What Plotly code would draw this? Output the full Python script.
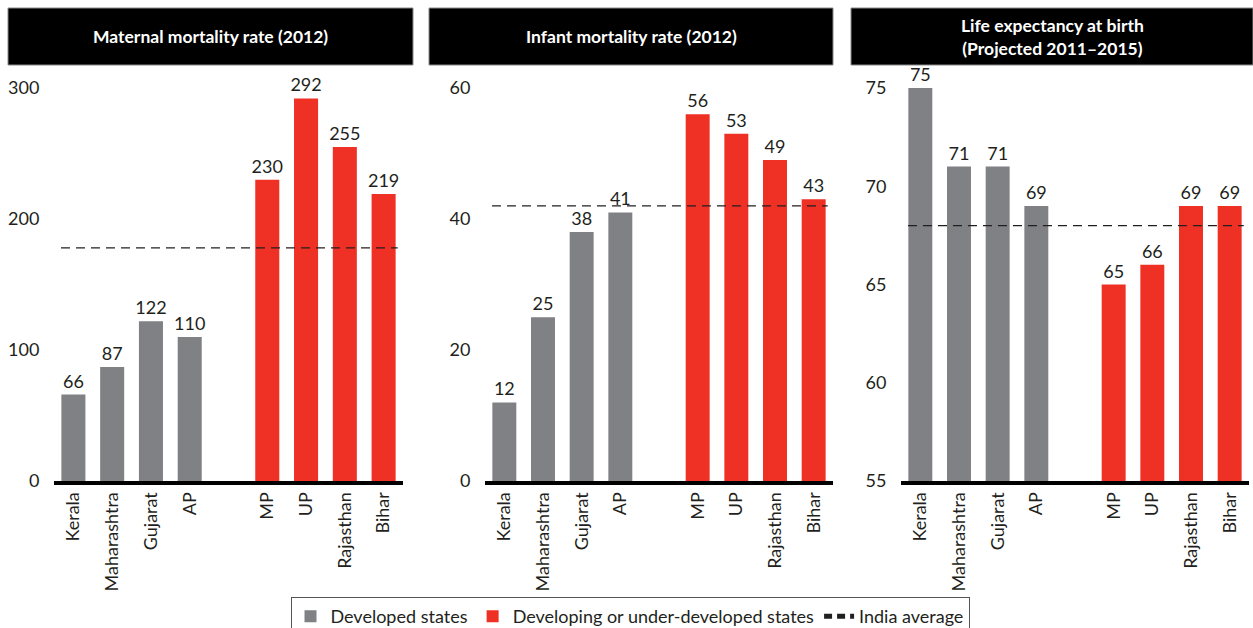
import plotly.graph_objects as go

# ---------------- data ----------------
developed = ["Kerala", "Maharashtra", "Gujarat", "AP"]
developing = ["MP", "UP", "Rajasthan", "Bihar"]
gap_label = " "

mmr_developed = [66, 87, 122, 110]
mmr_developing = [230, 292, 255, 219]
imr_developed = [12, 25, 38, 41]
imr_developing = [56, 53, 49, 43]
le_developed = [75, 71, 71, 69]
le_developing = [65, 66, 69, 69]
india_average = [178, 42, 68]

panel_titles = [
    "Maternal mortality rate (2012)",
    "Infant mortality rate (2012)",
    "Life expectancy at birth<br>(Projected 2011–2015)",
]
y_ranges = [[0, 300], [0, 60], [55, 75]]
y_ticks = [[0, 100, 200, 300], [0, 20, 40, 60], [55, 60, 65, 70, 75]]

legend_names = ["Developed states", "Developing or under-developed states", "India average"]

# ---------------- style ----------------
GREY = "#808184"
RED = "#EE3124"
TXT = "#231F20"
FONT = "Lato"

categories = developed + [gap_label] + developing
x_domains = [[54 / 1253, 403 / 1253], [485 / 1253, 833 / 1253], [901 / 1253, 1249 / 1253]]
y_domain = [(628 - 481) / 628, (628 - 88) / 628]
header_x = [[8 / 1253, 413 / 1253], [429 / 1253, 833 / 1253], [851 / 1253, 1.0]]

fig = go.Figure()

series = [
    (mmr_developed, mmr_developing),
    (imr_developed, imr_developing),
    (le_developed, le_developing),
]

for i, (dev, dvg) in enumerate(series):
    xa = "x" if i == 0 else f"x{i+1}"
    ya = "y" if i == 0 else f"y{i+1}"
    base = y_ranges[i][0]
    for names, vals, color, lname in [
        (developed, dev, GREY, legend_names[0]),
        (developing, dvg, RED, legend_names[1]),
    ]:
        fig.add_trace(go.Bar(
            x=names,
            y=[v - base for v in vals],
            base=base,
            text=vals,
            texttemplate="%{text}",
            textposition="outside",
            constraintext="none",
            textfont=dict(family=FONT, size=18, color=TXT),
            cliponaxis=False,
            marker=dict(color=color, line=dict(width=0)),
            name=lname,
            showlegend=(i == 0),
            legendgroup=lname,
            xaxis=xa, yaxis=ya,
            hoverinfo="skip",
        ))
    # India average dashed line
    fig.add_shape(
        type="line", xref=f"{xa} domain", yref=ya,
        x0=0.02, x1=0.985, y0=india_average[i], y1=india_average[i],
        line=dict(color="#231F20", width=1.3, dash="9px,6px"),
        layer="above",
    )

# legend entry for the dashed line
fig.add_trace(go.Scatter(
    x=[None], y=[None], mode="lines",
    line=dict(color="#231F20", width=1.3, dash="8px,5px"),
    name=legend_names[2], showlegend=True,
))

layout_axes = {}
for i in range(3):
    sx = "" if i == 0 else str(i + 1)
    layout_axes[f"xaxis{sx}"] = dict(
        domain=x_domains[i],
        anchor=f"y{sx}",
        type="category",
        categoryorder="array",
        categoryarray=categories,
        range=[-0.5, len(categories) - 0.5],
        showline=True, linecolor="black", linewidth=4,
        ticks="", tickangle=-90,
        tickfont=dict(family=FONT, size=18, color=TXT),
        showgrid=False, zeroline=False, fixedrange=True,
    )
    layout_axes[f"yaxis{sx}"] = dict(
        domain=y_domain,
        anchor=f"x{sx}",
        range=y_ranges[i],
        tickvals=y_ticks[i],
        showline=False, showgrid=False, zeroline=False,
        ticks="outside", ticklen=10, tickcolor="rgba(0,0,0,0)",
        tickfont=dict(family=FONT, size=18, color=TXT),
        fixedrange=True,
    )
    # header box
    fig.add_shape(
        type="rect", xref="paper", yref="paper",
        x0=header_x[i][0], x1=header_x[i][1],
        y0=(628 - 65) / 628, y1=(628 - 8) / 628,
        fillcolor="black", line=dict(color="#8a8a8a", width=1),
    )
    fig.add_annotation(
        xref="paper", yref="paper",
        x=(header_x[i][0] + header_x[i][1]) / 2,
        y=(628 - 36.5) / 628,
        text=f"<b>{panel_titles[i]}</b>",
        showarrow=False,
        font=dict(family=FONT, size=17.5, color="white"),
        xanchor="center", yanchor="middle",
    )

fig.update_layout(
    **layout_axes,
    width=1253, height=628,
    margin=dict(l=0, r=0, t=0, b=0, autoexpand=False),
    paper_bgcolor="white", plot_bgcolor="white",
    barmode="overlay",
    bargap=0.38,
    showlegend=True,
    legend=dict(
        orientation="h",
        x=630 / 1253, xanchor="center",
        y=(628 - 597) / 628, yanchor="top",
        bordercolor="#555555", borderwidth=1,
        font=dict(family=FONT, size=18, color=TXT),
        itemsizing="constant",
        tracegroupgap=0,
    ),
)

fig.write_html("out.html")
